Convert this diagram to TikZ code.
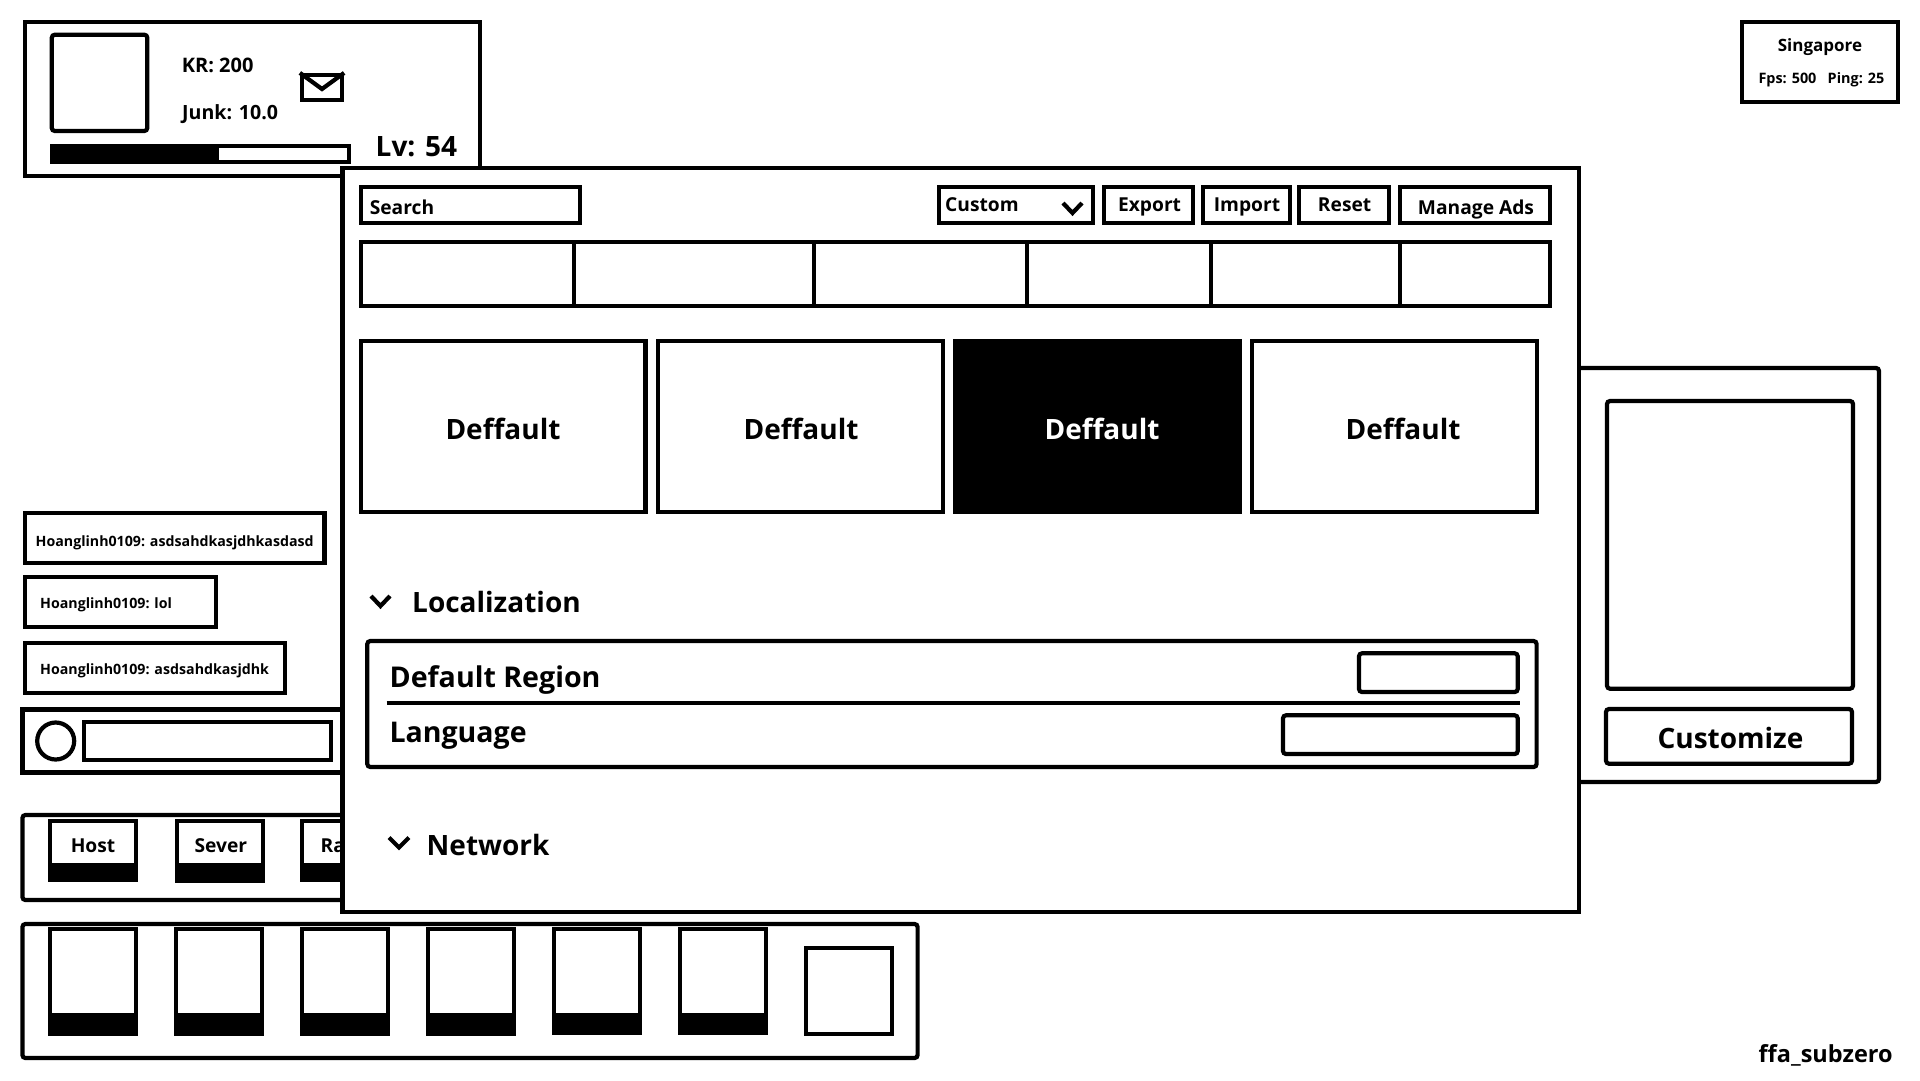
\documentclass[tikz,border=0pt]{standalone}
\usepackage{fontspec}
\usepackage{xcolor}
\usepackage{tikz}
\usetikzlibrary{fit}
\setmainfont{Open Sans}

\begin{document}
\begin{tikzpicture}[
    x=1pt, y=-1pt,
    wire/.style={draw, line width=4.2pt, inner sep=0pt, fill=white},
    softwire/.style={wire, rounded corners=3pt},
    solid box/.style={draw, line width=4.2pt, inner sep=0pt, fill=black},
    chev/.style={draw, line width=4.2pt},
    txt/.style={inner sep=0pt, anchor=base west, font=\fontsize{19.2}{22}\selectfont\bfseries},
    txtmid/.style={txt, anchor=base},
    chatfont/.style={font=\fontsize{14.2}{17}\selectfont\bfseries},
    small/.style={font=\fontsize{14.4}{18}\selectfont\bfseries},
    mid/.style={font=\fontsize{20}{24}\selectfont\bfseries},
    big/.style={font=\fontsize{28}{32}\selectfont\bfseries}
]
    \useasboundingbox (0,0) rectangle (1920,1080);

    % player card
    \node (playerpanel) [wire, fit={(25,22) (479.6,175.7)}] {};
    \node (avatar) [softwire, fit={(51.8,34.7) (147.3,131)}] {};
    \node (kr) [txt, mid] at (181.6,72.7) {KR: 200};
    \node (junk) [txt, font=\fontsize{19.6}{24}\selectfont\bfseries] at (182,119.8) {Junk: 10.0};
    \node (mail) [wire, fit={(302,75) (342,100)}] {};
    \coordinate (mailtip) at (322,89);
    \draw[chev] (mail.north west) -- (mailtip) -- (mail.north east);
    \node (xpbar) [wire, fit={(52,146) (349,162)}] {};
    \node (xpfill) [solid box, fit={(52,146) (217,162)}] {};
    \node (level) [txt, big] at (375.5,156) {Lv: 54};

    % server info
    \node (serverpanel) [wire, fit={(1742,22) (1898,102)}] {};
    \node (region) [txtmid, font=\fontsize{17}{20}\selectfont\bfseries] at (1820,51) {Singapore};
    \node (fps) [txt, small] at (1758.3,83.3) {Fps: 500};
    \node (ping) [txt, small] at (1827.5,83.3) {Ping: 25};

    % chat
    \node (chat1) [wire, fit={(25,513) (324.5,563)}] {};
    \node (chat2) [wire, fit={(25,577) (216,627)}] {};
    \node (chat3) [wire, fit={(25,643) (285,693)}] {};
    \node (chattext1) [txt, chatfont] at (35.5,546.3) {Hoanglinh0109: asdsahdkasjdhkasdasd};
    \node (chattext2) [txt, chatfont] at (40,608.5) {Hoanglinh0109: lol};
    \node (chattext3) [txt, chatfont] at (40,674.8) {Hoanglinh0109: asdsahdkasjdhk};
    \node (inputpanel) [wire, fit={(22.4,709.4) (400,772.4)}] {};
    \node (chatdot) [wire, circle, minimum size=37pt] at (55.7,741) {};
    \node (chatfield) [wire, fit={(84,722) (331,760)}] {};

    % game buttons
    \node (menupanel) [softwire, fit={(22.4,815) (400,900)}] {};
    \foreach \x/\b [count=\i] in {50/881.5, 177/883, 302/881.5} {
        \node (menu\i) [wire, fit={(\x,821) (\x+86,\b-2)}] {};
        \node (menufill\i) [solid box, fit={(\x,864.7) (\x+86,\b-2)}] {};
    }
    \node (host) [txtmid] at (93,852.6) {Host};
    \node (sever) [txtmid] at (220.8,852.6) {Sever};
    \node (rank) [txt] at (320.4,852.6) {Ra};

    % inventory
    \node (slotpanel) [softwire, fit={(22.4,924) (917.6,1058)}] {};
    \foreach \x/\b [count=\i] in {50/1034, 176/1034, 302/1034, 428/1034, 554/1033, 680/1033} {
        \node (slot\i) [wire, fit={(\x,929) (\x+86,\b)}] {};
        \node (slotfill\i) [solid box, fit={(\x,1014.7) (\x+86,\b)}] {};
    }
    \node (slot7) [wire, fit={(806.3,948) (892,1034)}] {};

    % customize panel
    \node (sidepanel) [softwire, fit={(1500,368) (1879,782)}] {};
    \node (preview) [softwire, fit={(1607,401) (1853,688.7)}] {};
    \node (customize) [softwire, fit={(1606,709) (1852,763.7)}] {};
    \node (customizetext) [txtmid, big] at (1730.5,748) {Customize};

    % settings window
    \node (window) [wire, fit={(342.4,168) (1578.6,911.7)}] {};
    \node (search) [wire, fit={(361,187) (579.6,223)}] {};
    \node (searchtext) [txt] at (369.6,214) {Search};
    \node (preset) [wire, fit={(939,187) (1093,223)}] {};
    \node (presettext) [txt] at (945,211.4) {Custom};
    \draw[chev] (1063,203) -- (1072.5,213) -- (1082,203);
    \foreach \xa/\xb/\xt/\yt/\t [count=\i] in {
        1104/1193/1149.6/211.4/Export,
        1203/1290/1247/211.4/Import,
        1299/1389/1344.6/211.4/Reset,
        1400/1550/1476/214/Manage Ads} {
        \node (action\i) [wire, fit={(\xa,187) (\xb,223)}] {};
        \node (actiontext\i) [txtmid] at (\xt,\yt) {\t};
    }
    \node (tabs) [wire, fit={(361,242) (1550,306)}] {};
    \foreach \x in {574,814,1026.8,1210.7,1399.6}
        \draw[chev] (\x,242) -- (\x,306);

    % profile cards
    \foreach \xa/\xb/\xt [count=\i] in {361/645.5/503, 658/943/801, 1252/1536.6/1403} {
        \node (card\i) [wire, fit={(\xa,341) (\xb,512)}] {};
        \node (cardtext\i) [txtmid, big] at (\xt,439) {Deffault};
    }
    \node (cardsel) [solid box, fit={(955,341) (1239.6,512)}] {};
    \node (cardseltext) [txtmid, big, text=white] at (1102,439) {Deffault};

    % settings
    \draw[chev] (371,596) -- (380.5,606) -- (390,596);
    \node (localization) [txt, big] at (412,612.5) {Localization};
    \node (localpanel) [softwire, fit={(367.3,641) (1536.6,767)}] {};
    \node (defaultregion) [txt, font=\fontsize{28.6}{32}\selectfont\bfseries] at (389.4,687.3) {Default Region};
    \draw[chev] (386.7,703.3) -- (1519.7,703.3);
    \node (language) [txt, font=\fontsize{28.5}{32}\selectfont\bfseries] at (389.4,742.3) {Language};
    \node (regionfield) [softwire, fit={(1359,653.3) (1517.7,692)}] {};
    \node (languagefield) [softwire, fit={(1283,715.3) (1517.7,754)}] {};
    \draw[chev] (389,837.5) -- (399,847.5) -- (409,837.5);
    \node (network) [txt, big] at (426.5,855.5) {Network};

    \node (mapname) [txt, font=\fontsize{23.5}{28}\selectfont\bfseries] at (1758.5,1062) {ffa\_subzero};
\end{tikzpicture}
\end{document}
